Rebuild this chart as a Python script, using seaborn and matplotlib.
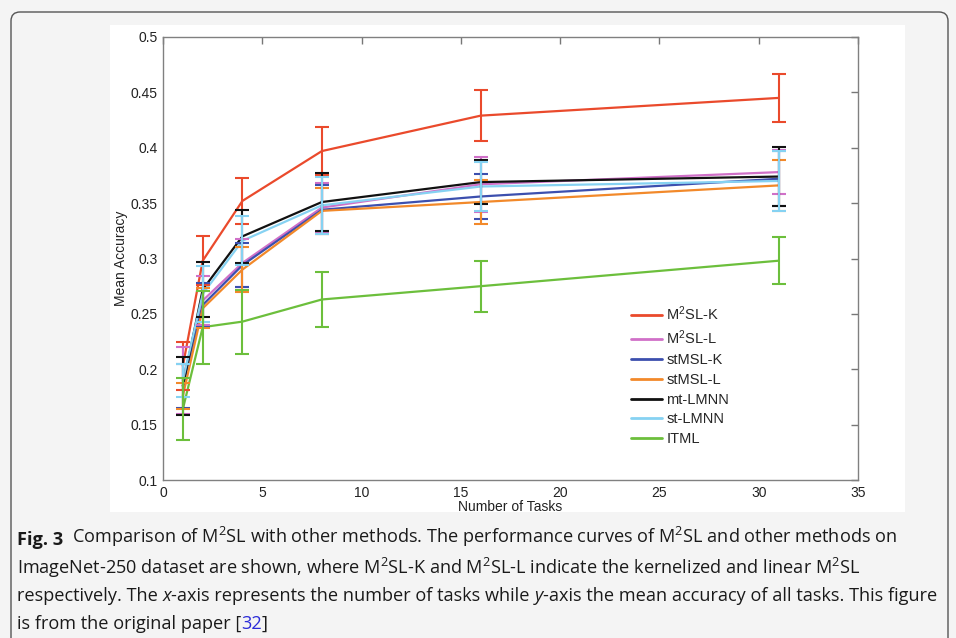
import numpy as np
import pandas as pd
import matplotlib
matplotlib.use("Agg")
import matplotlib.pyplot as plt
import seaborn as sns
from matplotlib import font_manager
from matplotlib.patches import FancyBboxPatch, Rectangle
from matplotlib.transforms import IdentityTransform
from matplotlib.lines import Line2D

# ---------------- data ----------------
tasks = [1, 2, 4, 8, 16, 31]
methods = ["M$^2$SL-K", "M$^2$SL-L", "stMSL-K", "stMSL-L", "mt-LMNN", "st-LMNN", "ITML"]
m2sl_k = [0.203, 0.298, 0.352, 0.397, 0.429, 0.445]
m2sl_k_err = [0.022, 0.022, 0.021, 0.022, 0.023, 0.022]
m2sl_l = [0.190, 0.262, 0.296, 0.346, 0.367, 0.378]
m2sl_l_err = [0.030, 0.022, 0.022, 0.022, 0.025, 0.020]
stmsl_k = [0.185, 0.258, 0.294, 0.344, 0.356, 0.372]
stmsl_k_err = [0.020, 0.020, 0.020, 0.022, 0.020, 0.025]
stmsl_l = [0.176, 0.255, 0.290, 0.343, 0.351, 0.366]
stmsl_l_err = [0.012, 0.018, 0.020, 0.021, 0.020, 0.023]
mt_lmnn = [0.185, 0.272, 0.320, 0.351, 0.369, 0.374]
mt_lmnn_err = [0.026, 0.025, 0.024, 0.026, 0.020, 0.027]
st_lmnn = [0.190, 0.268, 0.316, 0.348, 0.365, 0.370]
st_lmnn_err = [0.015, 0.025, 0.022, 0.026, 0.022, 0.027]
itml = [0.164, 0.238, 0.243, 0.263, 0.275, 0.298]
itml_err = [0.028, 0.033, 0.029, 0.025, 0.023, 0.021]

series = [m2sl_k, m2sl_l, stmsl_k, stmsl_l, mt_lmnn, st_lmnn, itml]
errors = [m2sl_k_err, m2sl_l_err, stmsl_k_err, stmsl_l_err, mt_lmnn_err, st_lmnn_err, itml_err]
colors = ["#ea4a2c", "#d070c8", "#3c4fae", "#f2892a", "#111111", "#86d2f2", "#6cbf3c"]

xticks = [0, 5, 10, 15, 20, 25, 30, 35]
yticks = [0.1, 0.15, 0.2, 0.25, 0.3, 0.35, 0.4, 0.45, 0.5]
ytick_labels = ["0.1", "0.15", "0.2", "0.25", "0.3", "0.35", "0.4", "0.45", "0.5"]

caption_lines = [
    [("Fig. 3", "bold", None, "normal"),
     ("  Comparison of M$^2$SL with other methods. The performance curves of M$^2$SL and other methods on", "normal", None, "normal")],
    [("ImageNet-250 dataset are shown, where M$^2$SL-K and M$^2$SL-L indicate the kernelized and linear M$^2$SL", "normal", None, "normal")],
    [("respectively. The ", "normal", None, "normal"), ("x", "normal", None, "italic"),
     ("-axis represents the number of tasks while ", "normal", None, "normal"), ("y", "normal", None, "italic"),
     ("-axis the mean accuracy of all tasks. This figure", "normal", None, "normal")],
    [("is from the original paper [", "normal", None, "normal"), ("32", "normal", "#2b2bd8", "normal"),
     ("]", "normal", None, "normal")],
]

# ---------------- style ----------------
sns.set_theme(style="white")
plt.rcParams["font.family"] = ["Liberation Sans", "DejaVu Sans"]
plt.rcParams["mathtext.default"] = "regular"

W, H = 956, 638
fig = plt.figure(figsize=(W / 100, H / 100), dpi=100)
fig.patch.set_facecolor("#f4f4f4")

# white image area of the chart
fig.add_artist(Rectangle((110 / W, 1 - 512 / H), (905 - 110) / W, (512 - 25) / H,
                         transform=fig.transFigure, facecolor="white", edgecolor="none", zorder=0))
# rounded frame
fig.add_artist(FancyBboxPatch((11, -60), 937, H - 12 + 60, boxstyle="round,pad=0,rounding_size=9",
                              transform=IdentityTransform(), facecolor="none",
                              edgecolor="#555555", linewidth=1.0, zorder=1))

ax = fig.add_axes([163 / W, 1 - 480 / H, (858 - 163) / W, (480 - 37) / H])
ax.set_facecolor("white")

rows = []
for name, vals in zip(methods, series):
    for t, v in zip(tasks, vals):
        rows.append({"tasks": t, "acc": v, "method": name})
df = pd.DataFrame(rows)

sns.lineplot(data=df, x="tasks", y="acc", hue="method", hue_order=methods,
             palette=dict(zip(methods, colors)), ax=ax, legend=False,
             linewidth=1.6, estimator=None, errorbar=None, sort=False)

for vals, errs, c in zip(series, errors, colors):
    ax.errorbar(tasks, vals, yerr=errs, fmt="none", ecolor=c, elinewidth=1.5,
                capsize=5, capthick=1.5, zorder=3)

ax.set_xlim(0, 35)
ax.set_ylim(0.1, 0.5)
ax.set_xticks(xticks)
ax.set_xticklabels([str(v) for v in xticks])
ax.set_yticks(yticks)
ax.set_yticklabels(ytick_labels)
ax.tick_params(direction="in", length=5, width=1, color="#777777", top=True, right=True,
               labelsize=10, labelcolor="#222222", pad=4)
for s in ax.spines.values():
    s.set_color("#808080")
    s.set_linewidth(1.0)
ax.set_xlabel("Number of Tasks", fontsize=10, color="#222222", labelpad=0)
ax.set_ylabel("Mean Accuracy", fontsize=10, color="#222222", labelpad=2)

handles = [Line2D([0], [0], color=c, lw=2) for c in colors]
ax.legend(handles, methods, loc="upper left", bbox_to_anchor=(0.674, 0.397), frameon=False,
          fontsize=10.5, handlelength=2.1, handletextpad=0.3, labelspacing=0.4,
          borderpad=0, borderaxespad=0)

# ---------------- caption ----------------
avail = {f.name for f in font_manager.fontManager.ttflist}
cap_family = "Liberation Sans Narrow" if "Liberation Sans Narrow" in avail else "Open Sans"
cap_size = 14.5 if cap_family == "Liberation Sans Narrow" else 11.5

line_y = [540, 568, 596, 624]
renderer = fig.canvas.get_renderer()


def build(size):
    arts = []
    for parts, y in zip(caption_lines, line_y):
        last = None
        for text, weight, color, style in parts:
            kw = dict(fontsize=size, fontweight=weight, fontstyle=style, color=color or "#1a1a1a",
                      family=[cap_family, "DejaVu Sans"])
            if last is None:
                last = fig.text(17 / W, 1 - y / H, text, ha="left", va="center", **kw)
            else:
                last = ax.annotate(text, xy=(1, 0), xycoords=last, ha="left", va="bottom",
                                   annotation_clip=False, **kw)
            arts.append(last)
    return arts


arts = build(cap_size)
fig.canvas.draw()
line3_start = len(caption_lines[0]) + len(caption_lines[1])
l3 = arts[line3_start:line3_start + len(caption_lines[2])]
x0 = l3[0].get_window_extent(renderer).x0
x1 = l3[-1].get_window_extent(renderer).x1
width = x1 - x0
target = 923
if width > 0 and abs(width - target) > 5:
    for a in arts:
        a.remove()
    cap_size = cap_size * target / width
    arts = build(cap_size)

fig.savefig("out.png", dpi=100, facecolor=fig.get_facecolor())
